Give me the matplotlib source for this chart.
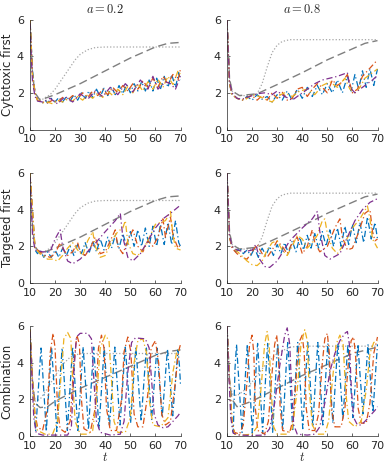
import matplotlib.pyplot as plt

# --------------------------------------------
# Data (t, value)
# --------------------------------------------
# gray reference curves, top and middle rows
a02_dot = [(10, 6), (11, 3), (12, 2), (13, 1.7), (15, 1.65), (18, 1.9), (20, 2.2), (22, 2.6), (25, 3.2),
           (28, 3.8), (30, 4.1), (33, 4.35), (36, 4.47), (40, 4.5), (70, 4.5)]
a02_dash = [(10, 6), (11, 3), (12, 2), (14, 1.6), (20, 1.9), (30, 2.5), (40, 3.2), (50, 3.9), (60, 4.5),
            (65, 4.7), (70, 4.75)]
a08_dot = [(10, 6), (11, 2.8), (12, 2.1), (15, 1.85), (20, 1.85), (22, 1.95), (24, 2.5), (26, 3.4), (28, 4.2),
           (30, 4.6), (32, 4.8), (35, 4.9), (70, 4.9)]
a08_dash = [(10, 6), (11, 2.8), (12, 2.1), (15, 1.85), (22, 1.95), (30, 2.45), (40, 3.1), (50, 3.8), (60, 4.4),
            (65, 4.7), (70, 4.85)]

# gray reference curves, bottom row
comb02_dot = [(10, 5.8), (11, 3), (12, 1.9), (14, 2.0), (17, 2.6), (20, 3.3), (23, 3.9), (26, 4.3), (30, 4.5),
              (70, 4.5)]
comb02_dash = [(10, 5.8), (11, 3), (12, 1.8), (14, 1.55), (17, 1.6), (20, 1.9), (30, 2.6), (40, 3.2), (50, 3.8),
               (60, 4.4), (65, 4.6), (70, 4.7)]
comb08_dot = [(10, 6), (11, 3), (12, 2.3), (14, 2.2), (18, 2.6), (22, 3.3), (26, 4.0), (30, 4.5), (35, 4.85),
              (40, 4.9), (70, 4.9)]
comb08_dash = [(10, 6), (11, 3), (12, 2.0), (14, 1.6), (20, 1.9), (30, 2.6), (40, 3.3), (50, 3.9), (60, 4.5),
               (70, 4.85)]

# cytotoxic first, a = 0.2
tl_blue = [(10, 6.0), (11, 3.2), (12, 2.0), (13, 1.6), (15, 1.45), (16, 1.6), (17, 1.45), (18.5, 1.7), (20, 1.5),
           (21.5, 1.75), (23, 1.5), (24.5, 1.8), (26, 1.55), (27.5, 1.9), (29, 1.6), (30.5, 2.0), (32, 1.7),
           (33.5, 2.1), (35, 1.75), (36.5, 2.2), (38, 1.8), (39.5, 2.25), (41, 1.85), (42.5, 2.3), (44, 1.9),
           (45.5, 2.4), (47, 1.95), (48.5, 2.45), (50, 2.0), (51.5, 2.5), (53, 2.1), (54.5, 2.6), (56, 2.1),
           (57.5, 2.7), (59, 2.1), (60.5, 2.8), (62, 2.2), (63.5, 2.9), (65, 2.3), (66.5, 3.0), (68, 2.3),
           (69.3, 3.1), (70, 2.7)]
tl_orange = [(10, 6), (11, 3), (12, 2), (13, 1.6), (15, 1.5), (17, 1.45), (19, 1.6), (21, 1.5), (23, 1.75),
             (25, 1.6), (27, 1.85), (29, 1.7), (31, 2.0), (33, 1.75), (35, 2.1), (37, 1.85), (39, 2.2), (41, 1.9),
             (43, 2.3), (45, 2.0), (47, 2.4), (49, 2.1), (51, 2.5), (53, 2.2), (55, 2.65), (57, 2.3), (59, 2.8),
             (61, 2.3), (63, 2.9), (65, 2.5), (67, 3.0), (69, 2.7), (70, 3.3)]
tl_yellow = [(10, 6), (11, 3), (12, 2), (13, 1.6), (15, 1.45), (17, 1.5), (19, 1.4), (21, 1.6), (23, 1.5),
             (25, 1.65), (27, 1.55), (29, 1.8), (31, 1.6), (33, 1.9), (35, 1.7), (37, 2.0), (39, 1.75), (41, 2.1),
             (43, 1.85), (45, 2.2), (47, 1.9), (49, 2.35), (51, 2.0), (53, 2.5), (55, 2.1), (57, 2.6), (59, 2.2),
             (61, 2.75), (63, 2.3), (65, 2.9), (67, 2.45), (69, 3.2), (70, 3.0)]
tl_purple = [(10, 5.8), (10.5, 4), (11, 2.6), (12, 1.8), (13, 1.55), (15, 1.5), (18, 1.7), (21, 1.4), (24, 1.8),
             (27, 1.5), (30, 1.95), (33, 1.65), (36, 2.1), (39, 1.8), (42, 2.3), (45, 1.9), (48, 2.5), (51, 2.05),
             (54, 2.7), (57, 2.2), (59, 2.9), (61, 2.2), (64, 2.6), (66, 2.5), (68, 2.2), (70, 2.9)]

# cytotoxic first, a = 0.8
tr_blue = [(10, 6), (11, 2.5), (12, 1.9), (14, 1.7), (16, 1.6), (18, 1.8), (20, 1.6), (22, 1.9), (24, 1.65),
           (26, 1.8), (28, 1.5), (30, 1.9), (32, 1.6), (34, 2.1), (36, 1.6), (38, 2.2), (40, 1.7), (42, 2.3),
           (44, 1.8), (46, 2.4), (48, 1.9), (50, 2.5), (52, 2.0), (54, 2.7), (56, 2.0), (58, 2.9), (59.5, 2.1),
           (61, 3.0), (62.5, 2.2), (64, 3.2), (65.5, 2.3), (67, 3.3), (68.5, 2.4), (70, 3.3)]
tr_orange = [(10, 6), (11, 2.5), (12, 1.9), (14, 1.7), (16, 1.6), (18, 1.75), (20, 1.85), (22, 1.6), (24, 1.85),
             (26, 1.6), (28, 2.0), (30, 1.7), (32, 2.05), (34, 1.6), (36, 1.7), (38, 2.2), (40, 2.3), (42, 1.8),
             (44, 2.2), (46, 2.5), (48, 2.3), (50, 2.0), (52, 2.7), (54, 2.4), (56, 2.6), (58, 3.0), (60, 2.0),
             (62, 2.2), (64, 2.9), (66, 3.2), (68, 3.5), (70, 3.8)]
tr_yellow = [(10, 6), (11, 2.5), (12, 1.9), (14, 1.7), (17, 1.6), (20, 1.9), (23, 1.8), (26, 1.6), (28, 1.5),
             (30, 1.8), (33, 2.0), (36, 1.8), (39, 2.1), (42, 2.2), (45, 1.9), (48, 2.4), (51, 2.6), (54, 2.3),
             (57, 2.8), (59, 2.2), (61, 2.0), (63, 2.3), (65, 2.8), (67, 3.0), (69, 3.2), (70, 3.3)]
tr_purple = [(10, 6), (11, 2.6), (12, 2.0), (14, 1.7), (16, 1.65), (19, 1.8), (22, 1.95), (25, 2.0), (28, 1.9),
             (30, 2.1), (33, 1.8), (36, 1.6), (39, 1.9), (42, 2.2), (45, 2.5), (48, 2.7), (51, 2.8), (54, 2.9),
             (58, 3.1), (59, 2.3), (61, 2.0), (63, 2.2), (66, 2.5), (68, 2.7), (70, 2.95)]

# targeted first, a = 0.2
ml_blue = [(10, 6), (12, 1.8), (13, 1.6), (14, 1.8), (15.5, 1.4), (17, 1.7), (18.5, 1.4), (20, 1.8), (21.5, 1.4),
           (23, 1.9), (24.5, 1.5), (26, 2.0), (27.5, 1.5), (29, 2.1), (30.5, 1.6), (32, 2.2), (33.5, 1.6),
           (35, 2.3), (36.5, 1.7), (38, 2.4), (39.5, 1.8), (41, 2.5), (42.5, 1.9), (44, 2.6), (45.5, 1.9),
           (47, 2.7), (48.5, 2.0), (50, 2.8), (51.5, 2.0), (53, 2.9), (54.5, 2.0), (56, 3.0), (57.5, 2.0),
           (59, 3.1), (60.5, 2.0), (62, 3.2), (63.5, 2.1), (65, 3.3), (66.5, 2.1), (68, 3.4), (69.3, 2.2),
           (70, 2.0)]
ml_orange = [(10, 6), (12, 1.9), (14, 1.7), (16, 1.5), (18, 1.4), (20, 1.6), (22, 2.2), (23, 1.9), (25, 1.5),
             (27, 1.7), (29, 2.2), (30, 1.7), (32, 1.5), (34, 1.9), (36, 2.5), (38, 1.6), (40, 1.7), (42, 2.3),
             (44, 2.9), (45, 2.0), (47, 1.6), (49, 2.3), (51, 2.9), (53, 2.0), (55, 1.7), (57, 2.3), (59, 2.0),
             (61, 2.5), (63, 3.5), (64, 2.5), (66, 3.6), (67, 2.6), (69, 1.9), (70, 2.1)]
ml_yellow = [(10, 6), (12, 1.9), (14, 1.6), (17, 1.3), (19, 1.3), (21, 1.2), (23, 1.5), (25, 1.9), (27, 2.2),
             (29, 1.8), (31, 1.5), (33, 2.3), (35, 2.8), (36, 2.0), (38, 1.4), (40, 1.5), (43, 2.4), (45, 2.8),
             (47, 3.0), (48, 3.4), (49, 2.2), (51, 1.6), (53, 1.5), (55, 1.8), (58, 2.6), (60, 3.2), (62, 3.3),
             (64, 3.4), (66, 3.9), (67, 2.6), (68, 1.9), (70, 1.8)]
ml_purple = [(10, 5.8), (11, 2.6), (12, 1.8), (15, 1.7), (18, 1.7), (20, 2.4), (22, 2.9), (23, 2.0), (25, 1.2),
             (27, 1.05), (30, 1.3), (35, 2.0), (40, 2.8), (44, 3.4), (46, 3.8), (47, 2.5), (49, 1.4), (51, 1.2),
             (54, 1.6), (57, 2.3), (60, 3.0), (63, 3.5), (66, 3.8), (70, 4.25)]

# targeted first, a = 0.8
mr_blue = [(10, 6), (11, 2.5), (12, 2.0), (13.5, 1.7), (15, 1.9), (16.5, 1.6), (18, 1.8), (19.5, 1.5), (21, 1.9),
           (22.5, 1.4), (24, 1.9), (25.5, 1.5), (27, 2.0), (28.5, 1.5), (30, 2.1), (31.5, 1.6), (33, 2.2),
           (34.5, 1.6), (36, 2.3), (37.5, 1.7), (39, 2.5), (40.5, 1.8), (42, 2.6), (43.5, 1.9), (45, 2.7),
           (46.5, 1.9), (48, 2.8), (49.5, 2.0), (51, 2.9), (52.5, 2.0), (54, 3.0), (55.5, 2.0), (57, 3.1),
           (58.5, 2.1), (60, 3.2), (61.5, 2.2), (63, 3.3), (64.5, 2.2), (66, 3.6), (67.5, 2.4), (69, 3.3),
           (70, 2.4)]
mr_orange = [(10, 6), (11, 2.5), (12, 1.9), (14, 1.6), (16, 1.4), (18, 1.3), (20, 1.7), (22, 2.1), (24, 1.6),
             (26, 1.4), (28, 1.8), (30, 2.3), (32, 2.0), (34, 1.6), (36, 2.2), (38, 2.5), (40, 1.6), (42, 2.0),
             (44, 2.9), (45, 2.2), (47, 1.7), (50, 2.0), (53, 3.0), (55, 3.5), (56, 2.5), (58, 1.8), (60, 1.9),
             (62, 2.6), (65, 3.8), (67, 4.0), (68, 2.8), (69, 2.3), (70, 2.4)]
mr_yellow = [(10, 6), (11, 2.5), (12, 2.0), (15, 1.6), (18, 1.2), (20, 1.0), (22, 0.95), (24, 1.2), (26, 1.8),
             (28, 2.2), (30, 2.3), (32, 1.8), (34, 1.5), (36, 2.0), (38, 2.6), (40, 2.4), (42, 1.9), (44, 2.2),
             (46, 2.6), (48, 3.4), (49, 3.5), (50, 2.7), (52, 1.9), (54, 1.6), (57, 2.2), (60, 3.0), (63, 3.5),
             (66, 4.2), (67, 3.5), (68, 2.4), (70, 1.9)]
mr_purple = [(10, 6), (11, 2.6), (12, 2.0), (14, 1.8), (17, 1.7), (20, 1.8), (21.5, 2.1), (23, 1.3), (25, 0.9),
             (27, 0.85), (30, 1.2), (35, 2.3), (40, 3.0), (44, 3.5), (46, 3.9), (47, 2.8), (49, 1.5), (51, 1.3),
             (55, 1.6), (58, 2.5), (61, 3.4), (64, 4.0), (67, 4.4), (70, 4.6)]

# combination, a = 0.2
bl_blue = [(10, 5.8), (11, 3), (12, 0.8), (12.3, 0.3), (13.8, 3.6), (14.4, 4.8), (15, 3.6), (16.5, 0.25),
           (18.0, 3.6), (18.6, 4.8), (19.2, 3.6), (20.7, 0.25), (22.2, 3.6), (22.8, 4.8), (23.4, 3.6),
           (24.9, 0.3), (26.4, 3.6), (27.0, 4.85), (27.6, 3.6), (29.1, 0.3), (30.6, 3.6), (31.2, 4.85),
           (31.8, 3.6), (33.3, 0.35), (34.8, 3.6), (35.4, 4.85), (36.0, 3.6), (37.5, 0.4), (39.0, 3.6),
           (39.6, 4.85), (40.2, 3.6), (41.7, 0.5), (43.2, 3.6), (43.8, 4.85), (44.4, 3.6), (45.9, 0.6),
           (47.4, 3.7), (48.0, 4.85), (48.6, 3.7), (50.1, 0.7), (51.6, 3.7), (52.2, 4.85), (52.8, 3.7),
           (54.3, 0.8), (55.8, 3.7), (56.4, 4.8), (57.0, 3.7), (58.5, 0.9), (60.0, 3.7), (60.6, 4.8),
           (61.2, 3.7), (62.7, 1.0), (64.2, 3.7), (64.8, 4.75), (65.4, 3.7), (66.9, 1.1), (68.4, 3.7),
           (69.0, 4.7), (69.6, 3.8), (70, 2.8)]
bl_orange = [(10, 5.8), (11, 3.0), (12, 1.2), (13, 0.5), (15, 0.3), (17, 1.5), (18, 4.5), (19.2, 5.6), (20, 4.8),
             (21, 1.5), (22, 0.4), (24, 0.2), (26, 0.8), (27.5, 4.0), (28.7, 5.5), (29.7, 5.0), (30.5, 2.0),
             (31.5, 0.4), (34, 0.2), (36, 1.5), (37.3, 4.8), (38.5, 5.5), (39.5, 4.8), (40.5, 1.5), (42, 0.3),
             (44.5, 0.3), (46.5, 2.0), (47.5, 4.6), (49, 5.4), (50.2, 4.6), (51.5, 1.2), (53, 0.5), (55, 0.5),
             (57, 2.3), (58.3, 4.8), (60, 5.2), (61.3, 4.0), (62.5, 1.2), (64, 0.6), (66, 0.8), (68, 3.0),
             (69.2, 4.6), (70, 5.0)]
bl_yellow = [(10, 5.8), (11, 3), (12, 1.0), (13, 0.3), (16, 0.1), (19, 0.1), (21, 0.8), (22.5, 3.5), (23.5, 5.3),
             (25, 5.65), (26.3, 5.3), (27, 3.0), (28, 0.8), (30, 0.1), (33, 0.1), (35, 0.3), (36.5, 2.0),
             (38, 4.8), (40, 5.5), (41.5, 5.2), (42.5, 3.0), (43.5, 0.8), (45, 0.2), (48, 0.2), (50, 1.0),
             (51.5, 4.0), (53, 5.2), (55, 5.3), (56.5, 4.5), (57.5, 2.0), (59, 0.6), (62, 0.5), (65, 1.0),
             (67, 3.5), (68.5, 4.6), (70, 4.8)]
bl_purple = [(10, 5.7), (10.7, 3.5), (11.5, 1.0), (12.5, 0.15), (15, 0.05), (20, 0.05), (25, 0.05), (26.5, 0.5),
             (27.5, 3.5), (28.5, 5.4), (30, 5.6), (33, 5.6), (34.5, 5.3), (35.5, 3.0), (36.5, 0.8), (38, 0.2),
             (42, 0.05), (46, 0.1), (47.5, 0.8), (49, 3.5), (50.5, 5.1), (52, 5.35), (56, 5.3), (57.5, 4.8),
             (58.5, 3.0), (59.5, 1.2), (61, 0.6), (63, 0.45), (65, 0.5), (67, 0.8), (69, 1.1), (70, 1.3)]

# combination, a = 0.8
br_blue = [(10, 6), (11, 3), (12, 0.6), (12.5, 0.2), (13.2, 3.7), (13.8, 5.0), (14.4, 3.7), (16.0, 0.2),
           (17.5, 3.7), (18.1, 5.0), (18.7, 3.7), (20.1, 0.15), (21.6, 3.7), (22.2, 5.05), (22.8, 3.7),
           (24.2, 0.15), (25.6, 3.7), (26.2, 5.05), (26.8, 3.7), (28.2, 0.2), (29.6, 3.7), (30.2, 5.05),
           (30.8, 3.7), (32.2, 0.3), (33.6, 3.8), (34.2, 5.1), (34.8, 3.8), (36.2, 0.35), (37.6, 3.8),
           (38.2, 5.1), (38.8, 3.8), (40.2, 0.4), (41.6, 3.8), (42.2, 5.1), (42.8, 3.8), (44.2, 0.5),
           (45.6, 3.8), (46.2, 5.1), (46.8, 3.8), (48.2, 0.6), (49.6, 3.8), (50.2, 5.05), (50.8, 3.8),
           (52.2, 0.7), (53.6, 3.8), (54.2, 5.05), (54.8, 3.8), (56.2, 0.9), (57.6, 3.8), (58.2, 5.0),
           (58.8, 3.8), (60.2, 1.0), (61.6, 3.8), (62.2, 5.0), (62.8, 3.8), (64.2, 1.2), (65.6, 3.8),
           (66.2, 5.0), (66.8, 3.8), (68.2, 1.3), (69.4, 3.8), (70, 5.0)]
br_orange = [(10, 6), (11, 3), (12, 0.8), (13, 0.2), (15, 0.1), (16.5, 0.6), (18, 3.0), (19, 5.0), (20, 5.5),
             (20.7, 4.5), (21.3, 1.5), (22.3, 0.3), (25, 0.1), (26.5, 0.8), (28, 3.5), (29, 5.0), (29.8, 5.5),
             (30.5, 4.5), (31.2, 1.5), (32.2, 0.3), (35, 0.2), (36.5, 1.0), (38, 4.0), (39, 5.2), (40, 5.5),
             (40.8, 4.5), (41.6, 1.5), (42.8, 0.3), (45, 0.3), (46.5, 1.2), (48, 4.0), (49, 5.3), (50, 5.6),
             (50.8, 4.5), (51.6, 1.5), (53, 0.5), (55.5, 0.5), (57, 1.5), (58.5, 4.2), (59.5, 5.2), (60.5, 5.4),
             (61.3, 4.3), (62.3, 1.5), (63.5, 0.7), (65.5, 0.7), (67, 1.8), (68.5, 4.5), (70, 5.4)]
br_yellow = [(10, 6), (11, 3), (12, 0.8), (13, 0.1), (16, 0.05), (20, 0.1), (22, 0.5), (23.5, 2.5), (25, 5.0),
             (26, 5.7), (26.8, 5.0), (27.6, 2.5), (28.6, 0.5), (30, 0.1), (34, 0.1), (36, 0.4), (38, 2.5),
             (39.5, 5.0), (41, 5.8), (42, 5.2), (42.8, 2.5), (44, 0.6), (46, 0.1), (49, 0.1), (50.5, 0.8),
             (52, 3.0), (53.5, 5.0), (55, 5.5), (56.3, 5.0), (57.3, 2.5), (58.5, 0.8), (61, 0.5), (63.5, 0.8),
             (65.5, 2.5), (67, 4.5), (68.5, 5.1), (70, 5.2)]
br_purple = [(10, 6), (10.7, 3.5), (11.5, 1.0), (12.5, 0.15), (15, 0.05), (20, 0.03), (25, 0.05), (27, 0.4),
             (29, 1.8), (31, 3.8), (33, 5.5), (34, 5.9), (35, 5.0), (35.8, 2.5), (36.6, 0.6), (38, 0.1),
             (42, 0.05), (45, 0.1), (47, 0.5), (49, 1.8), (51, 3.5), (53, 4.5), (55, 5.2), (57, 5.6), (58, 5.7),
             (58.8, 5.0), (59.6, 2.5), (60.5, 1.0), (62, 0.6), (63.5, 0.6), (65, 0.8), (67, 1.1), (69, 1.4),
             (70, 1.6)]

row_labels = ["Cytotoxic first", "Targeted first", "Combination"]
col_titles = ["$a = 0.2$", "$a = 0.8$"]
x_ticks = [10, 20, 30, 40, 50, 60, 70]
y_ticks = [0, 2, 4, 6]

# --------------------------------------------
# Style
# --------------------------------------------
plt.rcParams["font.family"] = "DejaVu Sans"
plt.rcParams["mathtext.fontset"] = "cm"

BLUE, ORANGE, YELLOW, PURPLE = "#0072BD", "#D95319", "#EDB120", "#7E2F8E"
DASHDOT = (0, (5, 2.2, 1, 2.2))
TXT = "#262626"

panels = [
    [(a02_dot, a02_dash, tl_blue, tl_orange, tl_yellow, tl_purple),
     (a08_dot, a08_dash, tr_blue, tr_orange, tr_yellow, tr_purple)],
    [(a02_dot, a02_dash, ml_blue, ml_orange, ml_yellow, ml_purple),
     (a08_dot, a08_dash, mr_blue, mr_orange, mr_yellow, mr_purple)],
    [(comb02_dot, comb02_dash, bl_blue, bl_orange, bl_yellow, bl_purple),
     (comb08_dot, comb08_dash, br_blue, br_orange, br_yellow, br_purple)],
]

fig = plt.figure(figsize=(3.9, 4.67), dpi=100)

lefts = [30 / 390, 227 / 390]
bottoms = [1 - 129.5 / 467, 1 - 283 / 467, 1 - 436 / 467]
w = 150.5 / 390
h = 110 / 467


def draw(ax, series):
    dot, dash, blue, orange, yellow, purple = series
    ax.plot(*zip(*dot), color="#a6a6a6", lw=0.9, ls=(0, (1, 1.6)))
    ax.plot(*zip(*dash), color="#7f7f7f", lw=1.0, ls=(0, (6, 3)))
    for data, c in [(blue, BLUE), (orange, ORANGE), (yellow, YELLOW), (purple, PURPLE)]:
        ax.plot(*zip(*data), color=c, lw=0.9, ls=DASHDOT)


for r in range(3):
    for c in range(2):
        ax = fig.add_axes([lefts[c], bottoms[r], w, h])
        draw(ax, panels[r][c])
        ax.set_xlim(10, 70)
        ax.set_ylim(0, 6)
        ax.set_xticks(x_ticks)
        ax.set_yticks(y_ticks)
        for s in ["top", "right"]:
            ax.spines[s].set_visible(False)
        for s in ["left", "bottom"]:
            ax.spines[s].set_color(TXT)
            ax.spines[s].set_linewidth(0.5)
        ax.tick_params(direction="in", length=2.5, width=0.5, color=TXT,
                       labelcolor=TXT, labelsize=8)
        ax.tick_params(axis="y", pad=4.5)
        ax.tick_params(axis="x", pad=3.5)
        if c == 0:
            ax.set_ylabel(row_labels[r], fontsize=8.5, color=TXT, labelpad=2)
        if r == 0:
            ax.set_title(col_titles[c], fontsize=9, color=TXT, pad=5)
        if r == 2:
            ax.set_xlabel("$t$", fontsize=9, color=TXT, labelpad=0)

fig.savefig("out.png", dpi=100)
